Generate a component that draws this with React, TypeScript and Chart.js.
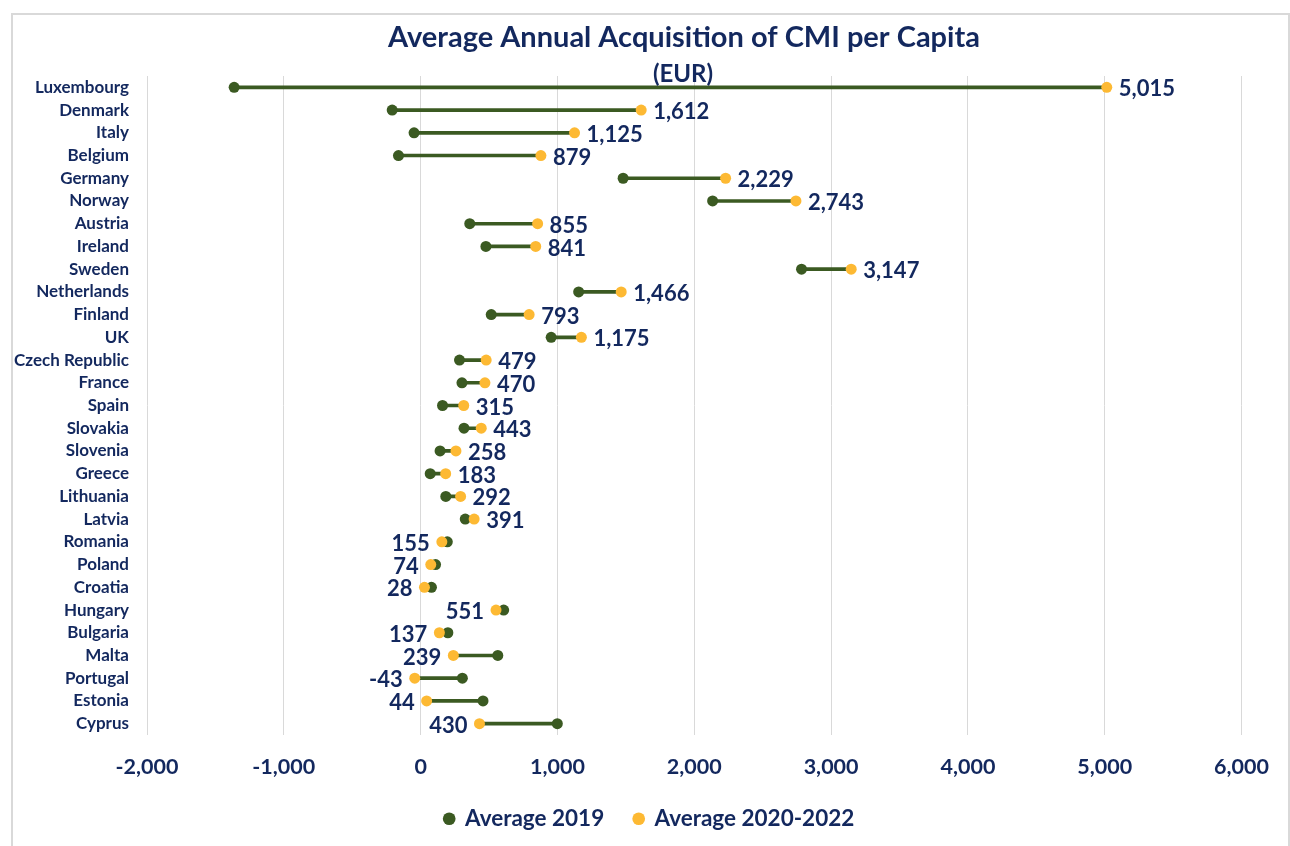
import React, { useEffect, useRef } from "react";
import { Chart, registerables } from "chart.js";

Chart.register(...registerables);

const countries = [
  "Luxembourg", "Denmark", "Italy", "Belgium", "Germany", "Norway", "Austria", "Ireland",
  "Sweden", "Netherlands", "Finland", "UK", "Czech Republic", "France", "Spain", "Slovakia",
  "Slovenia", "Greece", "Lithuania", "Latvia", "Romania", "Poland", "Croatia", "Hungary",
  "Bulgaria", "Malta", "Portugal", "Estonia", "Cyprus",
];

const avg2019 = [
  -1363, -208, -48, -162, 1480, 2134, 359, 477,
  2784, 1155, 516, 954, 284, 302, 160, 317,
  142, 70, 184, 326, 195, 109, 79, 607,
  199, 564, 305, 456, 999,
];

const avg2020_2022 = [
  5015, 1612, 1125, 879, 2229, 2743, 855, 841,
  3147, 1466, 793, 1175, 479, 470, 315, 443,
  258, 183, 292, 391, 155, 74, 28, 551,
  137, 239, -43, 44, 430,
];

const xTicksMin = -2000;
const xTicksMax = 6000;
const xStep = 1000;

const NAVY = "#13285E";
const GREEN = "#3B5A22";
const ORANGE = "#FDB933";
const FONT = "Lato";

const fmt = (v: number) => v.toLocaleString("en-US");

export default function App() {
  const ref = useRef<HTMLCanvasElement | null>(null);

  useEffect(() => {
    document.body.style.margin = "0";
    document.documentElement.style.overflow = "hidden";
    if (!ref.current) return;

    const titlePlugin = {
      id: "customTitle",
      afterDraw(chart: any) {
        const ctx = chart.ctx;
        ctx.save();
        ctx.fillStyle = NAVY;
        ctx.textAlign = "center";
        ctx.textBaseline = "middle";
        ctx.font = `bold 29px ${FONT}`;
        ctx.fillText("Average Annual Acquisition of CMI per Capita", 671, 23);
        ctx.font = `bold 24px ${FONT}`;
        ctx.fillText("(EUR)", 670, 59);
        ctx.restore();
      },
    };

    const LEGEND_SHIFT = 20;
    const legendShift = {
      id: "legendShift",
      afterLayout(chart: any) {
        const lg = chart.legend;
        if (lg && !lg.__wrapped) {
          const orig = lg.draw.bind(lg);
          lg.draw = (...args: any[]) => {
            const ctx = chart.ctx;
            ctx.save();
            ctx.translate(LEGEND_SHIFT, 0);
            orig(...args);
            ctx.restore();
          };
          lg.__wrapped = true;
        }
      },
    };

    const labelPlugin = {
      id: "valueLabels",
      afterDatasetsDraw(chart: any) {
        const ctx = chart.ctx;
        const meta = chart.getDatasetMeta(1);
        ctx.save();
        ctx.fillStyle = NAVY;
        ctx.font = `bold 22px ${FONT}`;
        ctx.textBaseline = "middle";
        meta.data.forEach((pt: any, i: number) => {
          const right = avg2020_2022[i] >= avg2019[i];
          ctx.textAlign = right ? "left" : "right";
          ctx.fillText(fmt(avg2020_2022[i]), pt.x + (right ? 12 : -12), pt.y + 2);
        });
        ctx.restore();
      },
    };

    const chart = new Chart(ref.current, {
      type: "bar",
      data: {
        labels: countries,
        datasets: [
          {
            type: "line",
            label: "Average 2019",
            data: avg2019,
            showLine: false,
            pointRadius: 5.5,
            pointBackgroundColor: GREEN,
            pointBorderWidth: 0,
            backgroundColor: GREEN,
            borderColor: GREEN,
            order: 2,
            indexAxis: "y",
          } as any,
          {
            type: "line",
            label: "Average 2020-2022",
            data: avg2020_2022,
            showLine: false,
            pointRadius: 5.5,
            pointBackgroundColor: ORANGE,
            pointBorderWidth: 0,
            backgroundColor: ORANGE,
            borderColor: ORANGE,
            order: 1,
            indexAxis: "y",
          } as any,
          {
            type: "bar",
            label: "range",
            data: countries.map((_, i) => [
              Math.min(avg2019[i], avg2020_2022[i]),
              Math.max(avg2019[i], avg2020_2022[i]),
            ]),
            backgroundColor: GREEN,
            borderWidth: 0,
            barThickness: 3,
            order: 3,
          } as any,
        ],
      },
      options: {
        indexAxis: "y",
        responsive: false,
        animation: false,
        layout: { padding: { top: 61, right: 42, bottom: 8, left: 0 } },
        scales: {
          x: {
            type: "linear",
            min: xTicksMin,
            max: xTicksMax,
            grid: { color: "#D9D9D9", lineWidth: 1, drawTicks: false },
            border: { display: false },
            ticks: {
              stepSize: xStep,
              padding: 19,
              color: NAVY,
              font: { family: FONT, size: 21.5, weight: "bold" },
              callback: (v: any) => fmt(Number(v)),
            },
            afterFit: (s: any) => {
              s.height = 42.5;
            },
          },
          y: {
            type: "category",
            grid: { display: false, drawTicks: false },
            border: { display: false },
            ticks: {
              padding: 18,
              color: NAVY,
              autoSkip: false,
              font: { family: FONT, size: 17, weight: "bold" },
            },
            afterFit: (s: any) => {
              s.width = 134;
            },
          },
        },
        plugins: {
          title: { display: false },
          tooltip: { enabled: false },
          legend: {
            position: "bottom",
            labels: {
              usePointStyle: true,
              pointStyle: "circle",
              boxWidth: 9,
              boxHeight: 9,
              padding: 30,
              color: NAVY,
              font: { family: FONT, size: 22.5, weight: "bold" },
              filter: (item: any) => item.datasetIndex !== 2,
              sort: (a: any, b: any) => a.datasetIndex - b.datasetIndex,
            },
          },
        },
      } as any,
      plugins: [titlePlugin, labelPlugin, legendShift],
    });

    return () => chart.destroy();
  }, []);

  return (
    <div
      style={{
        marginLeft: 11,
        marginTop: 13,
        width: 1279,
        height: 837,
        border: "2px solid #D9D9D9",
        boxSizing: "border-box",
        overflow: "hidden",
        background: "#fff",
      }}
    >
      <canvas ref={ref} width={1275} height={833} style={{ display: "block" }} />
    </div>
  );
}
